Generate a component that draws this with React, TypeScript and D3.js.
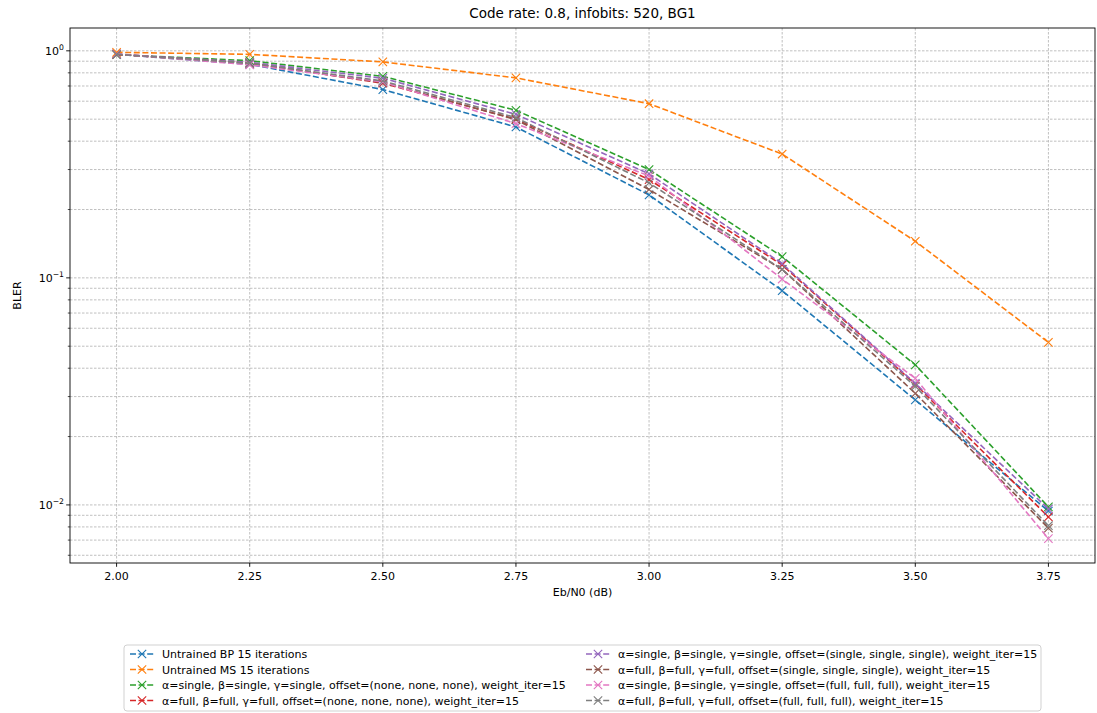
import React from "react";
import * as d3 from "d3";

const ebn0 = [2.0, 2.25, 2.5, 2.75, 3.0, 3.25, 3.5, 3.75];
const bpUntrained = [0.965, 0.872, 0.675, 0.462, 0.232, 0.0878, 0.029, 0.0094];
const msUntrained = [0.985, 0.965, 0.894, 0.76, 0.585, 0.351, 0.145, 0.052];
const singleNone = [0.962, 0.905, 0.772, 0.547, 0.3, 0.124, 0.0414, 0.0098];
const fullNone = [0.965, 0.885, 0.72, 0.5, 0.271, 0.114, 0.034, 0.00885];
const singleSingle = [0.967, 0.89, 0.757, 0.525, 0.287, 0.1155, 0.0343, 0.0096];
const fullSingle = [0.966, 0.88, 0.725, 0.498, 0.245, 0.109, 0.031, 0.0079];
const singleFull = [0.968, 0.868, 0.73, 0.478, 0.281, 0.0988, 0.0361, 0.0071];
const fullFull = [0.965, 0.882, 0.737, 0.508, 0.262, 0.109, 0.0333, 0.0081];

const seriesLabels = [
  "Untrained BP 15 iterations",
  "Untrained MS 15 iterations",
  "α=single, β=single, γ=single, offset=(none, none, none), weight_iter=15",
  "α=full, β=full, γ=full, offset=(none, none, none), weight_iter=15",
  "α=single, β=single, γ=single, offset=(single, single, single), weight_iter=15",
  "α=full, β=full, γ=full, offset=(single, single, single), weight_iter=15",
  "α=single, β=single, γ=single, offset=(full, full, full), weight_iter=15",
  "α=full, β=full, γ=full, offset=(full, full, full), weight_iter=15",
];
const seriesValues = [bpUntrained, msUntrained, singleNone, fullNone, singleSingle, fullSingle, singleFull, fullFull];
const colors = ["#1f77b4", "#ff7f0e", "#2ca02c", "#d62728", "#9467bd", "#8c564b", "#e377c2", "#7f7f7f"];
const xTicks = [2.0, 2.25, 2.5, 2.75, 3.0, 3.25, 3.5, 3.75];
const yMajor = [1, 0.1, 0.01];
const yMajorExp = ["0", "−1", "−2"];

const W = 1097;
const H = 713;
const L = 70, R = 1095, T = 28, B = 563;
const FONT = "DejaVu Sans, sans-serif";
const FS = 11;

export default function App() {
  const xMin = d3.min(ebn0)!, xMax = d3.max(ebn0)!;
  const xPad = (xMax - xMin) * 0.05;
  const x = d3.scaleLinear().domain([xMin - xPad, xMax + xPad]).range([L, R]);
  const all = seriesValues.flat();
  const lmin = Math.log10(d3.min(all)!), lmax = Math.log10(d3.max(all)!);
  const lp = (lmax - lmin) * 0.05;
  const y = d3.scaleLog().domain([Math.pow(10, lmin - lp), Math.pow(10, lmax + lp)]).range([B, T]);
  const [yLo, yHi] = y.domain();

  const minor: number[] = [];
  for (let e = -3; e <= 0; e++) {
    for (let k = 2; k <= 9; k++) {
      const v = k * Math.pow(10, e);
      if (v >= yLo && v <= yHi) minor.push(v);
    }
  }

  const line = d3.line<number>().x((_, i) => x(ebn0[i])).y((d) => y(d));
  const gridStyle = { stroke: "#b0b0b0", strokeWidth: 0.8, strokeDasharray: "2.5,1.5" };
  const ms = 4.2;

  const legL = 124, legR = 1041, legT = 645, legB = 711;
  const col2 = 586;
  const rowY = [654, 669.5, 685, 700.5];

  const xMark = (cx: number, cy: number, color: string, key: string) => (
    <path key={key} d={`M${cx - ms},${cy - ms}L${cx + ms},${cy + ms}M${cx - ms},${cy + ms}L${cx + ms},${cy - ms}`} stroke={color} strokeWidth={1.1} fill="none" />
  );

  return (
    <svg width={W} height={H} style={{ position: "absolute", left: 0, top: 0, background: "#fff" }} fontFamily={FONT}>
      <rect x={0} y={0} width={W} height={H} fill="#fff" />
      {minor.map((v, i) => (
        <line key={"gm" + i} x1={L} x2={R} y1={y(v)} y2={y(v)} {...gridStyle} />
      ))}
      {yMajor.map((v, i) => (
        <line key={"gy" + i} x1={L} x2={R} y1={y(v)} y2={y(v)} {...gridStyle} />
      ))}
      {xTicks.map((v, i) => (
        <line key={"gx" + i} x1={x(v)} x2={x(v)} y1={T} y2={B} {...gridStyle} />
      ))}
      {seriesValues.map((vals, s) => (
        <g key={"s" + s}>
          <path d={line(vals)!} fill="none" stroke={colors[s]} strokeWidth={1.6} strokeDasharray="6,2.6" />
          {vals.map((v, i) => xMark(x(ebn0[i]), y(v), colors[s], "m" + s + "_" + i))}
        </g>
      ))}
      <rect x={L} y={T} width={R - L} height={B - T} fill="none" stroke="#000" strokeWidth={0.9} />
      {xTicks.map((v, i) => (
        <g key={"xt" + i}>
          <line x1={x(v)} x2={x(v)} y1={B} y2={B + 3.8} stroke="#000" strokeWidth={0.9} />
          <text x={x(v)} y={B + 17} textAnchor="middle" fontSize={FS} fill="#000">
            {d3.format(".2f")(v)}
          </text>
        </g>
      ))}
      {yMajor.map((v, i) => (
        <g key={"yt" + i}>
          <line x1={L - 3.8} x2={L} y1={y(v)} y2={y(v)} stroke="#000" strokeWidth={0.9} />
          <text x={L - 6} y={y(v) + 4} textAnchor="end" fontSize={FS} fill="#000">
            10
            <tspan dy={-5} fontSize={7.7}>{yMajorExp[i]}</tspan>
          </text>
        </g>
      ))}
      {minor.map((v, i) => (
        <line key={"ym" + i} x1={L - 2.2} x2={L} y1={y(v)} y2={y(v)} stroke="#000" strokeWidth={0.7} />
      ))}
      <text x={(L + R) / 2} y={T - 10} textAnchor="middle" fontSize={13.5} fill="#000">
        Code rate: 0.8, infobits: 520, BG1
      </text>
      <text x={(L + R) / 2} y={B + 33} textAnchor="middle" fontSize={FS} fill="#000">
        Eb/N0 (dB)
      </text>
      <text transform={`translate(21,${(T + B) / 2}) rotate(-90)`} textAnchor="middle" fontSize={FS} fill="#000">
        BLER
      </text>
      <rect x={legL} y={legT} width={legR - legL} height={legB - legT} rx={3} fill="#fff" fillOpacity={0.8} stroke="#cccccc" strokeWidth={0.9} />
      {seriesLabels.map((lab, s) => {
        const col = s < 4 ? 0 : 1;
        const row = s % 4;
        const hx = col === 0 ? 130 : col2;
        const cy = rowY[row];
        return (
          <g key={"lg" + s}>
            <line x1={hx} x2={hx + 24} y1={cy} y2={cy} stroke={colors[s]} strokeWidth={1.6} strokeDasharray="6,2.6" />
            {xMark(hx + 12, cy, colors[s], "lm" + s)}
            <text x={hx + 32} y={cy + 4} fontSize={FS} fill="#000">
              {lab}
            </text>
          </g>
        );
      })}
    </svg>
  );
}
